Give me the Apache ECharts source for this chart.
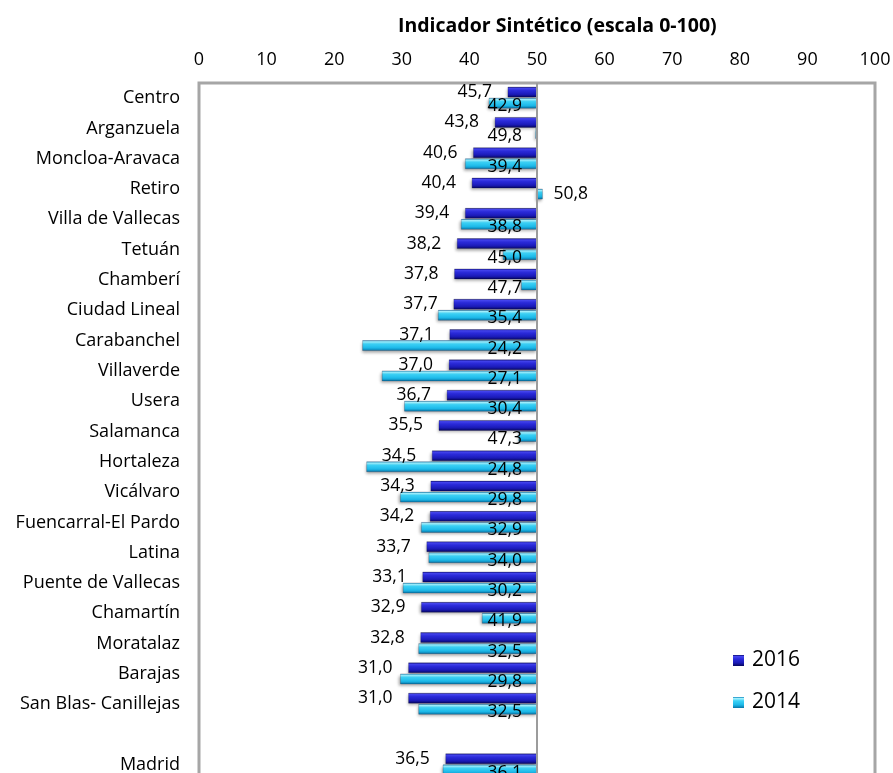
<!DOCTYPE html>
<html>
<head>
<meta charset="utf-8">
<script src="https://cdn.jsdelivr.net/npm/echarts@6/dist/echarts.min.js"></script>
<style>
  html, body { margin: 0; padding: 0; background: #ffffff; }
  #chart { width: 893px; height: 773px; }
</style>
</head>
<body>
<div id="chart"></div>
<script>
// District names (an empty row separates the city total)
const districts = [
  'Centro', 'Arganzuela', 'Moncloa-Aravaca', 'Retiro', 'Villa de Vallecas',
  'Tetuán', 'Chamberí', 'Ciudad Lineal', 'Carabanchel', 'Villaverde', 'Usera',
  'Salamanca', 'Hortaleza', 'Vicálvaro', 'Fuencarral-El Pardo', 'Latina',
  'Puente de Vallecas', 'Chamartín', 'Moratalaz', 'Barajas',
  'San Blas- Canillejas', '', 'Madrid'
];
const values2016 = [
  45.7, 43.8, 40.6, 40.4, 39.4, 38.2, 37.8, 37.7, 37.1, 37.0, 36.7,
  35.5, 34.5, 34.3, 34.2, 33.7, 33.1, 32.9, 32.8, 31.0, 31.0, null, 36.5
];
const values2014 = [
  42.9, 49.8, 39.4, 50.8, 38.8, 45.0, 47.7, 35.4, 24.2, 27.1, 30.4,
  47.3, 24.8, 29.8, 32.9, 34.0, 30.2, 41.9, 32.5, 29.8, 32.5, null, 36.1
];
const seriesNames = ['2016', '2014'];
const axisMin = 0, axisMax = 100, axisStep = 10;
const baseValue = 50;   // bars grow from the midpoint of the scale

const FONT = '"Open Sans", Lato, sans-serif';

const fmt = v => v.toFixed(1).replace('.', ',');

const grad = stops => new echarts.graphic.LinearGradient(0, 0, 0, 1,
  stops.map(c => ({ offset: c[0], color: c[1] })));

const fill2016 = grad([[0, '#0a0a6e'], [0.14, '#4646f2'], [0.35, '#2c2cdc'], [0.72, '#1a1ab6'], [1, '#06065c']]);
const fill2014 = grad([[0, '#0a84bc'], [0.14, '#a4f2ff'], [0.35, '#3cd2f6'], [0.72, '#1cb8e8'], [1, '#0774a6']]);

// Builds a renderer for one year's bars: offset places the bar inside the band,
// labelMode decides where the value text sits.
function makeRenderer(fill, offset, labelMode) {
  return function (params, api) {
    const idx = api.value(0);
    const v = api.value(1);
    if (v == null || isNaN(v)) return null;
    const band = api.size([0, 1])[1];
    const end = api.coord([v, idx]);
    const base = api.coord([baseValue, idx]);
    const h = band * 0.33;
    const yc = end[1] + band * offset;
    const x0 = Math.min(end[0], base[0]);
    const w = Math.max(Math.abs(end[0] - base[0]), 1);

    let tx, ty, align;
    if (v >= baseValue) {
      tx = end[0] + 11; ty = yc; align = 'left';
    } else if (labelMode === 'end') {
      tx = end[0] - 16; ty = yc; align = 'right';
    } else {
      tx = base[0] - 15; ty = yc + 3; align = 'right';
    }

    return {
      type: 'group',
      children: [
        {
          type: 'rect',
          shape: { x: x0, y: yc - h / 2, width: w, height: h },
          style: {
            fill: fill,
            stroke: 'rgba(0,0,40,0.35)',
            lineWidth: 0.6,
            shadowBlur: 3,
            shadowOffsetX: -1,
            shadowOffsetY: 2,
            shadowColor: 'rgba(0,0,0,0.35)'
          }
        },
        {
          type: 'text',
          z2: 100,
          x: tx,
          y: ty,
          style: {
            text: fmt(v),
            fill: '#000',
            font: '17.5px ' + FONT,
            align: align,
            verticalAlign: 'middle',
            textAlign: align,
            textVerticalAlign: 'middle'
          }
        }
      ]
    };
  };
}

const chart = echarts.init(document.getElementById('chart'), null, { renderer: 'canvas' });

chart.setOption({
  animation: false,
  backgroundColor: '#ffffff',
  title: {
    text: 'Indicador Sintético (escala 0-100)',
    left: 398,
    top: 16,
    padding: 0,
    textStyle: { fontFamily: FONT, fontWeight: 'bold', fontSize: 19.5, color: '#000' }
  },
  legend: {
    data: seriesNames,
    orient: 'vertical',
    left: 733,
    top: 650,
    padding: 0,
    icon: 'rect',
    itemWidth: 11,
    itemHeight: 11,
    itemGap: 21,
    textStyle: { fontFamily: '"Open Sans", sans-serif', fontSize: 21, lineHeight: 21, color: '#000', padding: [0, 0, 0, 3] }
  },
  grid: {
    left: 199,
    right: 18,
    top: 83,
    height: 697,
    show: true,
    borderColor: '#a6a6a6',
    borderWidth: 3,
    containLabel: false,
    outerBoundsMode: 'none'
  },
  xAxis: {
    type: 'value',
    position: 'top',
    min: axisMin,
    max: axisMax,
    interval: axisStep,
    axisLine: { show: false },
    axisTick: { show: false },
    splitLine: { show: false },
    axisLabel: { fontFamily: FONT, fontSize: 18, color: '#000', margin: 14 }
  },
  yAxis: {
    type: 'category',
    data: districts,
    inverse: true,
    axisLine: { show: false },
    axisTick: { show: false },
    axisLabel: { fontFamily: FONT, fontSize: 18, color: '#000', margin: 19, padding: [4, 0, 0, 0] }
  },
  series: [
    {
      name: seriesNames[0],
      type: 'custom',
      itemStyle: { color: fill2016 },
      encode: { x: 1, y: 0 },
      data: values2016.map((v, i) => [i, v]),
      renderItem: makeRenderer(fill2016, -0.2, 'end'),
      markLine: {
        silent: true,
        symbol: ['none', 'none'],
        label: { show: false },
        lineStyle: { color: '#9c9c9c', width: 2, type: 'solid' },
        data: [{ xAxis: baseValue }]
      }
    },
    {
      name: seriesNames[1],
      type: 'custom',
      itemStyle: { color: fill2014 },
      encode: { x: 1, y: 0 },
      data: values2014.map((v, i) => [i, v]),
      renderItem: makeRenderer(fill2014, 0.165, 'base')
    }
  ]
});
</script>
</body>
</html>
